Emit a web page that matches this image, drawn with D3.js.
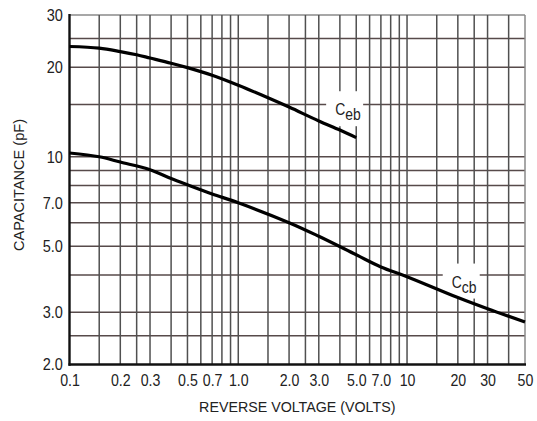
<!DOCTYPE html>
<html>
<head>
<meta charset="utf-8">
<script src="https://cdn.jsdelivr.net/npm/d3@7"></script>
<style>
  body { margin: 0; background: #fff; }
  text { font-family: "Liberation Sans", Arial, sans-serif; fill: #222; }
</style>
</head>
<body>
<div id="wrapper"></div>
<script>
// reverse voltage (V) and capacitance (pF)
const cebVolts = [0.1, 0.15, 0.2, 0.25, 0.3, 0.4, 0.5, 0.7, 1.0, 1.5, 2.0, 3.0, 4.0, 5.0];
const cebPf    = [23.5, 23.2, 22.6, 22.05, 21.5, 20.65, 19.95, 18.8, 17.4, 15.8, 14.7, 13.2, 12.3, 11.6];

const ccbVolts = [0.1, 0.15, 0.2, 0.3, 0.4, 0.5, 0.7, 1.0, 2.0, 3.0, 5.0, 7.0, 10, 20, 30, 50];
const ccbPf    = [10.3, 10.0, 9.6, 9.05, 8.45, 8.05, 7.5, 7.0, 6.0, 5.4, 4.68, 4.26, 3.95, 3.36, 3.08, 2.78];

const xGrid = [0.15, 0.2, 0.25, 0.3, 0.4, 0.5, 0.6, 0.7, 0.8, 0.9, 1, 1.5, 2, 2.5, 3, 4, 5, 6, 7, 8, 9,
               10, 15, 20, 25, 30, 40, 50];
const yGrid = [2.5, 3, 4, 5, 6, 7, 8, 9, 10, 15, 20, 25, 30];

const xTicks = [0.1, 0.2, 0.3, 0.5, 0.7, 1, 2, 3, 5, 7, 10, 20, 30, 50];
const xTickLabels = ["0.1", "0.2", "0.3", "0.5", "0.7", "1.0", "2.0", "3.0", "5.0", "7.0", "10", "20", "30", "50"];
const yTicks = [2, 3, 5, 7, 10, 20, 30];
const yTickLabels = ["2.0", "3.0", "5.0", "7.0", "10", "20", "30"];

// curve labels: main letter, subscript, anchor in data units
const curveLabels = [
  {main: "C", sub: "eb", v: 3.75, pf: 13.8},
  {main: "C", sub: "cb", v: 18.4, pf: 3.63}
];

const width = 537, height = 421;
const plot = {left: 69.5, right: 525, top: 15, bottom: 364.5};

const svg = d3.select("#wrapper").append("svg")
  .attr("width", width)
  .attr("height", height);

const xScale = d3.scaleLog().domain([0.1, 50]).range([plot.left, plot.right]);
const yScale = d3.scaleLog().domain([2, 30]).range([plot.bottom, plot.top]);

// grid
svg.append("g")
  .selectAll("line")
  .data(yGrid)
  .join("line")
  .attr("x1", plot.left).attr("x2", plot.right)
  .attr("y1", d => yScale(d)).attr("y2", d => yScale(d))
  .attr("stroke", d => d === 30 ? "#8a8a8a" : "#574a4a")
  .attr("stroke-width", 1.5);

svg.append("g")
  .selectAll("line")
  .data(xGrid)
  .join("line")
  .attr("x1", d => xScale(d)).attr("x2", d => xScale(d))
  .attr("y1", plot.top).attr("y2", plot.bottom)
  .attr("stroke", d => d === 50 ? "#8a8a8a" : "#505050")
  .attr("stroke-width", 1.5);

// white patches behind the curve names
svg.append("g")
  .selectAll("rect")
  .data(curveLabels)
  .join("rect")
  .attr("x", d => xScale(d.v) - 9)
  .attr("y", d => yScale(d.pf) - 24)
  .attr("width", 37)
  .attr("height", 35)
  .attr("fill", "#fff");

// axes (labels only, lines drawn below)
const xAxis = d3.axisBottom(xScale)
  .tickValues(xTicks)
  .tickFormat((d, i) => xTickLabels[i])
  .tickSize(0)
  .tickPadding(10);

const yAxis = d3.axisLeft(yScale)
  .tickValues(yTicks)
  .tickFormat((d, i) => yTickLabels[i])
  .tickSize(0)
  .tickPadding(7.5);

svg.append("g")
  .attr("class", "x axis")
  .attr("transform", `translate(0, ${plot.bottom})`)
  .call(xAxis)
  .call(g => g.select(".domain").remove())
  .call(g => g.selectAll("text")
    .attr("font-family", "Liberation Sans, Arial, sans-serif")
    .attr("font-size", 16.5)
    .attr("fill", "#222")
    .attr("transform", "scale(0.86,1)"));

svg.append("g")
  .attr("class", "y axis")
  .attr("transform", `translate(${plot.left}, 0)`)
  .call(yAxis)
  .call(g => g.select(".domain").remove())
  .call(g => g.selectAll("text")
    .attr("font-family", "Liberation Sans, Arial, sans-serif")
    .attr("font-size", 16.5)
    .attr("fill", "#222")
    .attr("transform", "scale(0.88,1)"));

// frame: heavy left and bottom
svg.append("line")
  .attr("x1", plot.left).attr("x2", plot.left)
  .attr("y1", plot.top - 1).attr("y2", plot.bottom + 1.2)
  .attr("stroke", "#111").attr("stroke-width", 2.4);
svg.append("line")
  .attr("x1", plot.left - 1).attr("x2", plot.right + 1)
  .attr("y1", plot.bottom).attr("y2", plot.bottom)
  .attr("stroke", "#111").attr("stroke-width", 2.4);

// curves
const line = d3.line()
  .x(d => xScale(d[0]))
  .y(d => yScale(d[1]))
  .curve(d3.curveCatmullRom.alpha(0.5));

const series = [
  d3.zip(cebVolts, cebPf),
  d3.zip(ccbVolts, ccbPf)
];

svg.append("g")
  .selectAll("path")
  .data(series)
  .join("path")
  .attr("d", line)
  .attr("fill", "none")
  .attr("stroke", "#000")
  .attr("stroke-width", 3.2);

// curve names
const names = svg.append("g")
  .selectAll("text")
  .data(curveLabels)
  .join("text")
  .attr("transform", d => `translate(${xScale(d.v)},${yScale(d.pf)}) scale(0.82,1)`)
  .attr("font-size", 17);
names.append("tspan").text(d => d.main);
names.append("tspan").attr("dy", 5).text(d => d.sub);

// axis titles
svg.append("text")
  .attr("transform", `translate(${(plot.left + plot.right) / 2},412) scale(0.92,1)`)
  .attr("text-anchor", "middle")
  .attr("font-size", 15.5)
  .text("REVERSE VOLTAGE (VOLTS)");

svg.append("text")
  .attr("transform", "translate(24,185) rotate(-90) scale(0.94,1)")
  .attr("text-anchor", "middle")
  .attr("font-size", 15.5)
  .text("CAPACITANCE (pF)");
</script>
</body>
</html>
